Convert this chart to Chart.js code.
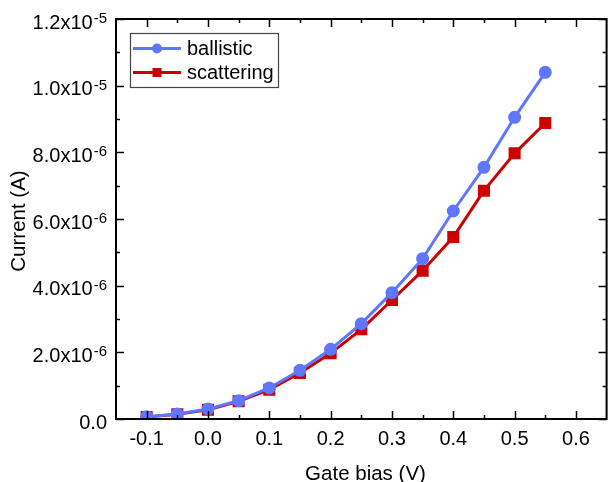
<!DOCTYPE html>
<html>
<head>
<meta charset="utf-8">
<script src="https://cdn.jsdelivr.net/npm/chart.js@4"></script>
<style>
  body { margin: 0; background: #fff; }
  canvas { display: block; }
</style>
</head>
<body>
<canvas id="chart" width="616" height="482"></canvas>
<script>
// Data
const gateBias = [-0.1, -0.05, 0.0, 0.05, 0.1, 0.15, 0.2, 0.25, 0.3, 0.35, 0.4, 0.45, 0.5, 0.55];
const ballistic = [0.07e-6, 0.15e-6, 0.30e-6, 0.55e-6, 0.93e-6, 1.46e-6, 2.09e-6, 2.86e-6, 3.79e-6, 4.81e-6, 6.24e-6, 7.55e-6, 9.05e-6, 10.4e-6];
const scattering = [0.06e-6, 0.14e-6, 0.28e-6, 0.53e-6, 0.88e-6, 1.38e-6, 1.97e-6, 2.69e-6, 3.57e-6, 4.45e-6, 5.46e-6, 6.85e-6, 7.97e-6, 8.88e-6];

const xTicks = [-0.1, 0.0, 0.1, 0.2, 0.3, 0.4, 0.5, 0.6];
const xTickLabels = ['-0.1', '0.0', '0.1', '0.2', '0.3', '0.4', '0.5', '0.6'];
const yTicks = [0, 2e-6, 4e-6, 6e-6, 8e-6, 10e-6, 12e-6];
const yTickMain = ['0.0', '2.0x10', '4.0x10', '6.0x10', '8.0x10', '1.0x10', '1.2x10'];
const yTickExp = ['', '-6', '-6', '-6', '-6', '-5', '-5'];

const BLUE = '#5F77FF';
const RED = '#CC0000';
const FONT = '"Liberation Sans", Arial, sans-serif';

function toPoints(ys) {
    return gateBias.map((x, i) => ({ x: x, y: ys[i] }));
}

// frame, inward ticks, labels, titles and legend
const axesPlugin = {
    id: 'axesPlugin',
    afterDraw(chart) {
        const ctx = chart.ctx;
        const a = chart.chartArea;
        const xs = chart.scales.x;
        const ys = chart.scales.y;
        ctx.save();
        ctx.strokeStyle = '#000';
        ctx.fillStyle = '#000';

        // ticks
        ctx.lineWidth = 1.5;
        ctx.beginPath();
        for (let k = -2; k <= 12; k++) {
            const v = k * 0.05;
            const len = k % 2 === 0 ? 8 : 4;
            const px = Math.round(xs.getPixelForValue(v)) + 0.5;
            ctx.moveTo(px, a.bottom); ctx.lineTo(px, a.bottom - len);
            ctx.moveTo(px, a.top); ctx.lineTo(px, a.top + len);
        }
        for (let k = 0; k <= 12; k++) {
            const len = k % 2 === 0 ? 8 : 4;
            const py = Math.round(ys.getPixelForValue(k * 1e-6)) + 0.5;
            ctx.moveTo(a.left, py); ctx.lineTo(a.left + len, py);
            ctx.moveTo(a.right, py); ctx.lineTo(a.right - len, py);
        }
        ctx.stroke();

        // frame
        ctx.lineWidth = 2;
        ctx.strokeRect(a.left, a.top, a.right - a.left, a.bottom - a.top);

        // x tick labels
        ctx.font = '20px ' + FONT;
        ctx.textAlign = 'center';
        ctx.textBaseline = 'alphabetic';
        xTicks.forEach((v, i) => {
            ctx.fillText(xTickLabels[i], xs.getPixelForValue(v), a.bottom + 26);
        });

        // y tick labels with superscript exponent
        yTicks.forEach((v, i) => {
            const py = ys.getPixelForValue(v);
            let right = a.left - 9;
            ctx.textAlign = 'right';
            if (yTickExp[i]) {
                ctx.font = '15px ' + FONT;
                ctx.fillText(yTickExp[i], right, py + 4);
                right -= ctx.measureText(yTickExp[i]).width + 1;
            }
            ctx.font = '20px ' + FONT;
            ctx.fillText(yTickMain[i], right, py + 9.5);
        });

        // axis titles
        ctx.font = '20.5px ' + FONT;
        ctx.textAlign = 'center';
        ctx.textBaseline = 'alphabetic';
        ctx.fillText('Gate bias (V)', 365.5, 480);
        ctx.save();
        ctx.translate(25, 221);
        ctx.rotate(-Math.PI / 2);
        ctx.fillText('Current (A)', 0, 0);
        ctx.restore();

        // legend
        ctx.lineWidth = 1.2;
        ctx.strokeStyle = '#444';
        ctx.strokeRect(130.5, 33.5, 148, 54);
        const rows = [
            { label: 'ballistic', color: BLUE, y: 48.5, circle: true },
            { label: 'scattering', color: RED, y: 72.5, circle: false }
        ];
        rows.forEach(r => {
            ctx.strokeStyle = r.color;
            ctx.fillStyle = r.color;
            ctx.lineWidth = 3;
            ctx.beginPath();
            ctx.moveTo(133, r.y); ctx.lineTo(181, r.y);
            ctx.stroke();
            ctx.beginPath();
            if (r.circle) {
                ctx.arc(157, r.y, 5, 0, Math.PI * 2);
            } else {
                ctx.rect(152.5, r.y - 4.5, 9, 9);
            }
            ctx.fill();
            ctx.fillStyle = '#000';
            ctx.font = '20px ' + FONT;
            ctx.textAlign = 'left';
            ctx.textBaseline = 'alphabetic';
            ctx.fillText(r.label, 187, r.y + 6.5);
        });

        ctx.restore();
    }
};

new Chart(document.getElementById('chart'), {
    type: 'line',
    data: {
        datasets: [
            {
                label: 'ballistic',
                data: toPoints(ballistic),
                borderColor: BLUE,
                backgroundColor: BLUE,
                borderWidth: 3,
                pointStyle: 'circle',
                pointRadius: 5,
                pointHoverRadius: 5,
                tension: 0
            },
            {
                label: 'scattering',
                data: toPoints(scattering),
                borderColor: RED,
                backgroundColor: RED,
                borderWidth: 3,
                pointStyle: 'rect',
                pointRadius: 6.4,
                pointHoverRadius: 6.4,
                tension: 0
            }
        ]
    },
    options: {
        responsive: false,
        animation: false,
        layout: {
            padding: { left: 116, right: 3, top: 19, bottom: 63 }
        },
        plugins: {
            legend: { display: false },
            tooltip: { enabled: false }
        },
        scales: {
            x: {
                type: 'linear',
                display: false,
                min: -0.15,
                max: 0.65
            },
            y: {
                type: 'linear',
                display: false,
                min: 0,
                max: 12e-6
            }
        }
    },
    plugins: [axesPlugin]
});
</script>
</body>
</html>
